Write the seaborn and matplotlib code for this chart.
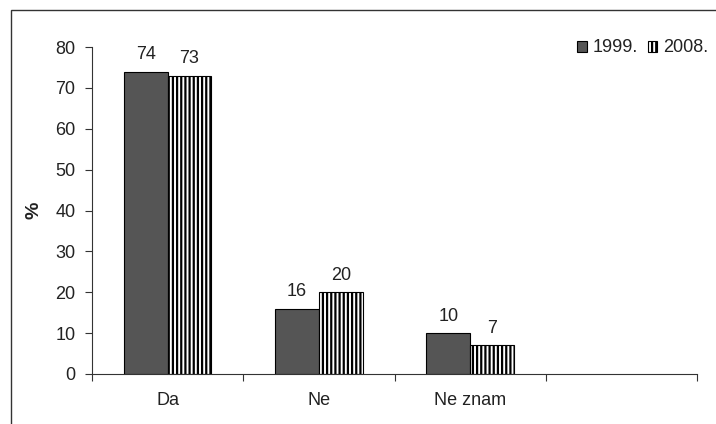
import matplotlib
matplotlib.use("Agg")
import matplotlib.pyplot as plt
import seaborn as sns
import pandas as pd
from matplotlib.patches import Rectangle, Patch
from matplotlib.ticker import FixedLocator

categories = ["Da", "Ne", "Ne znam"]
series_names = ["1999.", "2008."]
values_1999 = [74, 16, 10]
values_2008 = [73, 20, 7]
y_ticks = [0, 10, 20, 30, 40, 50, 60, 70, 80]

df = pd.DataFrame({
    "cat": categories * 2,
    "year": [series_names[0]] * 3 + [series_names[1]] * 3,
    "val": values_1999 + values_2008,
})

sns.set_theme(style="white")
plt.rcParams["font.family"] = ["Liberation Sans", "DejaVu Sans"]
plt.rcParams["hatch.linewidth"] = 1.6
plt.rcParams["hatch.color"] = "black"

FS = 13
fig = plt.figure(figsize=(7.16, 4.24), dpi=100)
ax = fig.add_axes([92/716, 1-374/424, (697-92)/716, (374-47)/424])

order = categories + [" "]
sns.barplot(data=df, x="cat", y="val", hue="year", order=order,
            hue_order=series_names, palette=["#555555", "white"],
            width=0.58, edgecolor="black", linewidth=0.8, ax=ax,
            saturation=1, legend=False)

for container, name in zip(ax.containers, series_names):
    for bar in container:
        if name == "2008.":
            bar.set_hatch("||||")
    ax.bar_label(container, fmt="%d", padding=6, fontsize=FS, color="#222222")

ax.set_xlim(-0.5, 3.5)
ax.set_ylim(0, 80)
ax.set_yticks(y_ticks)
ax.set_xlabel("")
ax.set_ylabel("%", fontsize=14, fontweight="bold", labelpad=9, color="#222222")
ax.xaxis.set_minor_locator(FixedLocator([-0.5, 0.5, 1.5, 2.5, 3.5]))
ax.tick_params(axis="x", which="major", length=0, pad=13, labelsize=FS, labelcolor="#222222")
ax.tick_params(axis="x", which="minor", length=5, width=0.8, color="#333333", direction="out", bottom=True)
ax.tick_params(axis="y", length=5, width=0.8, color="#333333", direction="out", left=True,
               labelsize=FS, pad=7, labelcolor="#222222")
for s in ["top", "right"]:
    ax.spines[s].set_visible(False)
for s in ["left", "bottom"]:
    ax.spines[s].set_color("#333333")
    ax.spines[s].set_linewidth(0.8)

handles = [Patch(facecolor="#555555", edgecolor="black", linewidth=0.8),
           Patch(facecolor="white", edgecolor="black", hatch="||||", linewidth=0.8)]
fig.legend(handles, series_names, loc="center right",
           bbox_to_anchor=(708/716, 1 - 48/424), bbox_transform=fig.transFigure,
           ncol=2, frameon=False, handlelength=0.55, handleheight=0.55,
           handletextpad=0.3, columnspacing=0.55, fontsize=FS, labelcolor="#222222",
           borderpad=0, borderaxespad=0)

fig.patches.append(Rectangle((11/716, -0.1), 1.2, 1 - 10/424 + 0.1,
                             transform=fig.transFigure, fill=False,
                             edgecolor="#333333", linewidth=1.0))

fig.savefig("out.png", dpi=100)
